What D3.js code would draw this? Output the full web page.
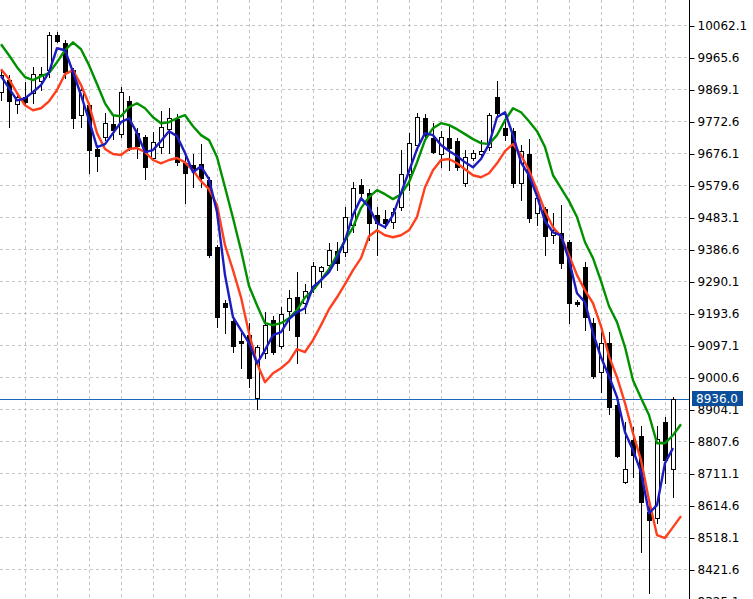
<!DOCTYPE html>
<html><head><meta charset="utf-8">
<script src="https://cdn.jsdelivr.net/npm/d3@7"></script>
<style>body{margin:0;background:#fff}svg{display:block}</style>
</head><body>
<svg id="c" width="753" height="599"></svg>
<script>
// OHLC candles (bar index 0..84)
const opens  = [9863,9899,9826,9847,9860,9896,9929,10034,10010,9929,9793,9823,9691,9727,9766,9736,9835,9739,9727,9664,9697,9751,9781,9648,9642,9645,9597,9395,9226,9172,9112,9130,8940,9075,9175,9097,9202,9244,9226,9272,9323,9341,9383,9380,9461,9582,9558,9492,9480,9471,9516,9615,9703,9784,9724,9676,9724,9715,9588,9664,9676,9697,9847,9754,9745,9588,9676,9498,9510,9431,9437,9410,9229,9335,9166,9018,9106,8919,8686,8813,8825,8596,8578,8867,8726];
const highs  = [9929,9914,9863,9893,9938,9938,10043,10043,10019,9935,9875,9829,9700,9799,9793,9878,9851,9754,9733,9742,9805,9814,9796,9673,9676,9706,9606,9401,9235,9184,9136,9166,9100,9199,9187,9214,9265,9320,9284,9350,9338,9407,9410,9516,9591,9600,9570,9516,9507,9513,9688,9739,9799,9796,9769,9745,9763,9724,9688,9688,9718,9799,9896,9802,9754,9703,9721,9567,9516,9498,9522,9416,9235,9350,9181,9139,9139,8925,8867,8852,8855,8632,8855,8882,8943];
const lows   = [9838,9757,9799,9823,9829,9869,9908,10013,9905,9754,9757,9618,9624,9718,9721,9727,9688,9664,9600,9661,9679,9679,9642,9528,9576,9576,9365,9154,9136,9079,9030,8973,8907,9060,9072,9091,9145,9045,9196,9259,9275,9332,9326,9368,9440,9543,9416,9371,9452,9452,9507,9567,9688,9718,9679,9636,9627,9627,9579,9658,9670,9688,9793,9718,9576,9537,9471,9461,9371,9407,9332,9166,9217,9145,9000,8958,8892,8762,8683,8702,8475,8352,8563,8683,8641];
const closes = [9914,9835,9847,9832,9917,9917,10034,10016,9923,9784,9869,9688,9670,9769,9748,9863,9697,9700,9636,9712,9757,9784,9651,9618,9627,9603,9371,9184,9214,9097,9106,9000,9094,9160,9079,9193,9241,9127,9262,9338,9335,9386,9347,9486,9573,9558,9468,9468,9468,9501,9615,9709,9787,9733,9682,9727,9694,9636,9667,9679,9685,9793,9799,9733,9588,9685,9483,9543,9428,9446,9347,9226,9223,9184,9006,9106,8913,8765,8726,8768,8626,8572,8816,8753,8936.0];

// indicator lines (green and red run one bar beyond the last candle)
const lineGreen = [10007,9974,9938,9908,9899,9911,9920,9953,9989,10013,9992,9944,9887,9829,9793,9790,9817,9829,9814,9787,9769,9772,9784,9793,9760,9733,9718,9667,9576,9483,9386,9278,9220,9166,9160,9166,9181,9205,9244,9265,9296,9329,9371,9416,9455,9513,9546,9567,9555,9540,9555,9591,9651,9718,9754,9769,9763,9751,9736,9721,9709,9706,9733,9778,9814,9802,9775,9745,9697,9612,9573,9534,9486,9410,9362,9293,9217,9169,9094,8994,8940,8889,8804,8804,8828,8861];
const lineRed   = [9932,9902,9860,9823,9808,9814,9835,9869,9917,9929,9884,9826,9739,9691,9676,9673,9691,9694,9682,9658,9648,9658,9664,9651,9627,9594,9570,9522,9401,9326,9244,9136,9045,8988,9015,9030,9051,9088,9079,9115,9160,9208,9244,9284,9326,9362,9428,9446,9431,9425,9431,9446,9486,9576,9627,9658,9661,9648,9630,9612,9606,9618,9648,9685,9706,9673,9627,9567,9504,9455,9428,9371,9311,9265,9226,9157,9066,9003,8925,8834,8753,8632,8527,8518,8551,8584];
const lineBlue  = [9911,9875,9838,9844,9863,9884,9923,9995,9989,9923,9854,9778,9697,9706,9739,9772,9784,9739,9682,9688,9715,9745,9730,9679,9621,9639,9600,9501,9311,9184,9145,9106,9045,9085,9130,9139,9178,9199,9211,9275,9296,9320,9362,9416,9492,9543,9516,9468,9455,9492,9558,9624,9691,9739,9733,9703,9685,9670,9651,9636,9661,9706,9787,9802,9733,9651,9612,9549,9474,9440,9431,9356,9256,9229,9136,9063,9006,8943,8837,8783,8717,8593,8617,8744,8789];

const yTicks = [10062.1,9965.6,9869.1,9772.6,9676.1,9579.6,9483.1,9386.6,9290.1,9193.6,9097.1,9000.6,8904.1,8807.6,8711.1,8614.6,8518.1,8421.6,8325.1];
const lastPrice = 8936.0;

const W = 753, H = 599, plotR = 689;
const svg = d3.select("#c");
const x = d3.scaleLinear().domain([0, 85]).range([1, 681]);
const y = d3.scaleLinear().domain([8325.1, 10062.1]).range([602, 26]);
const snap = v => Math.round(v) + 0.5;

svg.append("defs").append("clipPath").attr("id","plot")
  .append("rect").attr("x",0).attr("y",0).attr("width",plotR).attr("height",H);

const g = svg.append("g").attr("clip-path","url(#plot)");

// grid
const gridColor = "#c4c4c4";
g.append("g").selectAll("line").data(yTicks).join("line")
  .attr("x1",0).attr("x2",plotR)
  .attr("y1",d=>snap(y(d))-1).attr("y2",d=>snap(y(d))-1)
  .attr("stroke",gridColor).attr("stroke-dasharray","3,3");
const vIdx = d3.range(3, 86, 4);
g.append("g").selectAll("line").data(vIdx).join("line")
  .attr("y1",0).attr("y2",H)
  .attr("x1",d=>snap(x(d))).attr("x2",d=>snap(x(d)))
  .attr("stroke",gridColor).attr("stroke-dasharray","3,3");

// last price line
g.append("line").attr("x1",0).attr("x2",plotR)
  .attr("y1",snap(y(lastPrice))).attr("y2",snap(y(lastPrice)))
  .attr("stroke","#1a66bb").attr("stroke-width",1);

// candles
const idx = d3.range(closes.length);
const cg = g.append("g");
cg.selectAll("line.wick").data(idx).join("line").attr("class","wick")
  .attr("x1",i=>snap(x(i))).attr("x2",i=>snap(x(i)))
  .attr("y1",i=>Math.round(y(highs[i]))).attr("y2",i=>Math.round(y(lows[i]))+1)
  .attr("stroke","#000").attr("stroke-width",1);
cg.selectAll("rect.body").data(idx).join("rect").attr("class","body")
  .attr("x",i=>Math.round(x(i))-2+0.5)
  .attr("width",4)
  .attr("y",i=>Math.round(y(Math.max(opens[i],closes[i])))+0.5)
  .attr("height",i=>Math.max(1,Math.round(y(Math.min(opens[i],closes[i])))-Math.round(y(Math.max(opens[i],closes[i])))))
  .attr("fill",i=>closes[i]>=opens[i]?"#fff":"#000")
  .attr("stroke","#000").attr("stroke-width",1);

// indicator lines
const lineGen = d3.line().x((d,i)=>x(i)).y(d=>y(d));
[[lineGreen,"#009100"],[lineRed,"#ff401e"],[lineBlue,"#1c1cbf"]].forEach(([data,col])=>{
  g.append("path").datum(data).attr("d",lineGen)
    .attr("fill","none").attr("stroke",col).attr("stroke-width",2.4)
    .attr("stroke-linejoin","round");
});

// right axis
const axis = d3.axisRight(y).tickValues(yTicks).tickFormat(d3.format(".1f")).tickSize(5).tickSizeOuter(0).tickPadding(3);
const ag = svg.append("g").attr("transform",`translate(${plotR+0.5},0)`).call(axis);
ag.select(".domain").remove();
ag.selectAll("text").attr("font-family","DejaVu Sans, sans-serif").attr("font-size",12).attr("fill","#000");
ag.selectAll(".tick line").attr("stroke","#000");
svg.append("line").attr("x1",plotR+0.5).attr("x2",plotR+0.5).attr("y1",0).attr("y2",H)
  .attr("stroke","#000").attr("stroke-width",1);

// last price tag
const ly = Math.round(y(lastPrice));
svg.append("rect").attr("x",692).attr("y",ly-8).attr("width",51).attr("height",15).attr("fill","#0b4f9a");
svg.append("text").attr("x",696).attr("y",ly+4).text(d3.format(".1f")(lastPrice))
  .attr("font-family","DejaVu Sans, sans-serif").attr("font-size",12).attr("fill","#fff");
</script>
</body></html>
